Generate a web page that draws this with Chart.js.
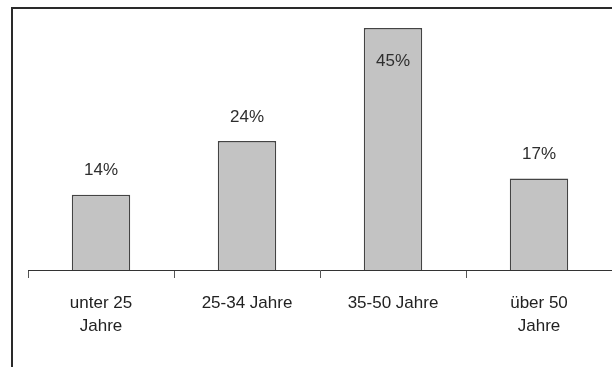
<!DOCTYPE html>
<html>
<head>
<meta charset="utf-8">
<script src="https://cdn.jsdelivr.net/npm/chart.js@4/dist/chart.umd.min.js"></script>
<style>
  html, body { margin: 0; padding: 0; background: #fff; }
  #wrap { width: 612px; height: 367px; position: relative; }
</style>
</head>
<body>
<div id="wrap"><canvas id="c" width="612" height="367"></canvas></div>
<script>
// Age groups and their share of respondents (percent)
const categories = [["unter 25", "Jahre"], ["25-34 Jahre"], ["35-50 Jahre"], ["über 50", "Jahre"]];
const shares = [14, 24, 45, 17];
const valueLabels = ["14%", "24%", "45%", "17%"];

const FONT = "'Liberation Sans', Arial, Helvetica, sans-serif";

// Frame along the left and top edges of the figure
const framePlugin = {
  id: 'frame',
  beforeDraw(chart) {
    const ctx = chart.ctx;
    ctx.save();
    ctx.strokeStyle = '#2a2a2a';
    ctx.lineWidth = 2;
    ctx.beginPath();
    ctx.moveTo(12, chart.height);
    ctx.lineTo(12, 8);
    ctx.lineTo(chart.width, 8);
    ctx.stroke();
    ctx.restore();
  }
};

// Percentage labels above each bar (inside the bar when there is no room above)
const valueLabelPlugin = {
  id: 'valueLabels',
  afterDatasetsDraw(chart) {
    const ctx = chart.ctx;
    const meta = chart.getDatasetMeta(0);
    ctx.save();
    ctx.font = '17px ' + FONT;
    ctx.fillStyle = '#2e2e2e';
    ctx.textAlign = 'center';
    ctx.textBaseline = 'middle';
    meta.data.forEach((bar, i) => {
      let y = bar.y - 24;
      if (y < chart.chartArea.top + 40) y = bar.y + 33;
      ctx.fillText(valueLabels[i], bar.x, y);
    });
    ctx.restore();
  }
};

new Chart(document.getElementById('c'), {
  type: 'bar',
  data: {
    labels: categories,
    datasets: [{
      data: shares,
      backgroundColor: '#c3c3c3',
      borderColor: '#444',
      borderWidth: 1.5,
      barPercentage: 0.8,
      categoryPercentage: 0.5
    }]
  },
  options: {
    responsive: false,
    animation: false,
    layout: { padding: { left: 28, right: 0, top: 8, bottom: 0 } },
    plugins: { legend: { display: false }, tooltip: { enabled: false } },
    scales: {
      x: {
        offset: true,
        grid: {
          offset: true,
          display: true,
          drawOnChartArea: false,
          drawTicks: true,
          tickLength: 8,
          color: '#555'
        },
        border: { display: true, color: '#333', width: 1 },
        ticks: {
          color: '#222',
          font: { family: FONT, size: 17, lineHeight: '23px' },
          padding: 14,
          maxRotation: 0,
          autoSkip: false
        },
        afterFit(scale) { scale.height = 97; }
      },
      y: {
        display: false,
        min: 0,
        max: 48.7
      }
    }
  },
  plugins: [framePlugin, valueLabelPlugin]
});
</script>
</body>
</html>
